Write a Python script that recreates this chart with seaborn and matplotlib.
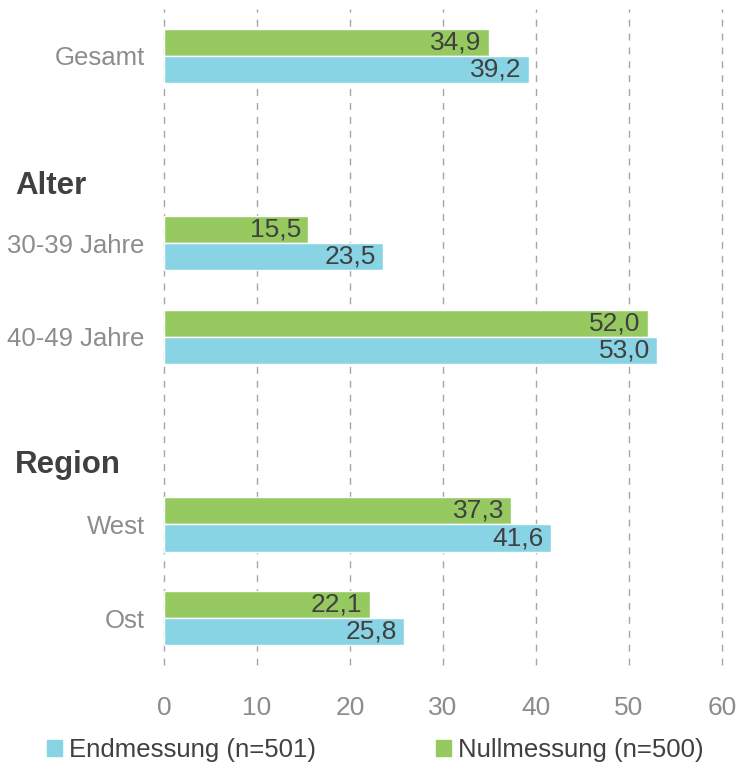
import numpy as np
import pandas as pd
import matplotlib.pyplot as plt
import matplotlib.transforms as mtransforms
from matplotlib.patches import Patch
import seaborn as sns

# Daten
kategorien = ['Gesamt', ' ', '30-39 Jahre', '40-49 Jahre', '  ', 'West', 'Ost']
gruppen = ['Gesamt', '30-39 Jahre', '40-49 Jahre', 'West', 'Ost']
nullmessung = [34.9, 15.5, 52.0, 37.3, 22.1]
endmessung = [39.2, 23.5, 53.0, 41.6, 25.8]
serien = ['Nullmessung', 'Endmessung']
legenden = {'Endmessung': 'Endmessung (n=501)', 'Nullmessung': 'Nullmessung (n=500)'}
ueberschriften = [('Alter', 1.39), ('Region', 4.37)]
x_ticks = [0, 10, 20, 30, 40, 50, 60]

farben = {'Nullmessung': '#96CA60', 'Endmessung': '#88D4E5'}
grau = '#8C8C8C'
dunkel = '#404040'

df = pd.DataFrame({
    'kategorie': gruppen * 2,
    'serie': ['Nullmessung'] * len(gruppen) + ['Endmessung'] * len(gruppen),
    'wert': nullmessung + endmessung,
})

sns.set_style('white')
plt.rcParams['font.family'] = ['Liberation Sans', 'DejaVu Sans']

fig = plt.figure(figsize=(7.37, 7.64), dpi=100)
ax = fig.add_axes([164 / 737, 99 / 764, 558 / 737, 656 / 764])

sns.barplot(data=df, y='kategorie', x='wert', hue='serie', order=kategorien,
            hue_order=serien, palette=farben, orient='h', width=0.58,
            saturation=1, errorbar=None, legend=False, ax=ax)

# Werte in die Balken schreiben
for cont in ax.containers:
    for p in cont:
        w = p.get_width()
        ax.annotate(f'{w:.1f}'.replace('.', ','),
                    xy=(w, p.get_y() + p.get_height() / 2),
                    xytext=(-5, 0), textcoords='offset points',
                    ha='right', va='center', fontsize=19, color=dunkel)

ax.set_xlim(0, 60)
ax.set_xticks(x_ticks)
ax.set_ylim(6.5, -0.5)
ax.set_xlabel('')
ax.set_ylabel('')
ax.set_yticks(range(len(kategorien)))
ax.set_yticklabels([k.strip() for k in kategorien])
ax.tick_params(axis='y', length=0, pad=14, labelsize=18.5, labelcolor=grau)
ax.tick_params(axis='x', length=0, pad=22, labelsize=19, labelcolor=grau)
ax.grid(axis='x', color='#A6A6A6', linestyle=(0, (5, 5)), linewidth=1)
for gl in ax.get_xgridlines():
    gl.set_clip_on(False)
ax.set_axisbelow(True)
for s in ax.spines.values():
    s.set_visible(False)

# Gruppenüberschriften
trans = mtransforms.blended_transform_factory(fig.transFigure, ax.transData)
for text, ypos in ueberschriften:
    ax.text(15 / 737, ypos, text, transform=trans, ha='left', va='center',
            fontsize=22.5, fontweight='bold', color=dunkel)

handles = [Patch(color=farben[s]) for s in ['Endmessung', 'Nullmessung']]
labels = [legenden[s] for s in ['Endmessung', 'Nullmessung']]
fig.legend(handles, labels, loc='center left', bbox_to_anchor=(47 / 737, 14 / 764),
           ncol=2, frameon=False, fontsize=18.5, handlelength=0.58, handleheight=0.58,
           handletextpad=0.27, columnspacing=4.67, borderpad=0, borderaxespad=0,
           labelcolor=dunkel)

fig.savefig('out.png', dpi=100)
